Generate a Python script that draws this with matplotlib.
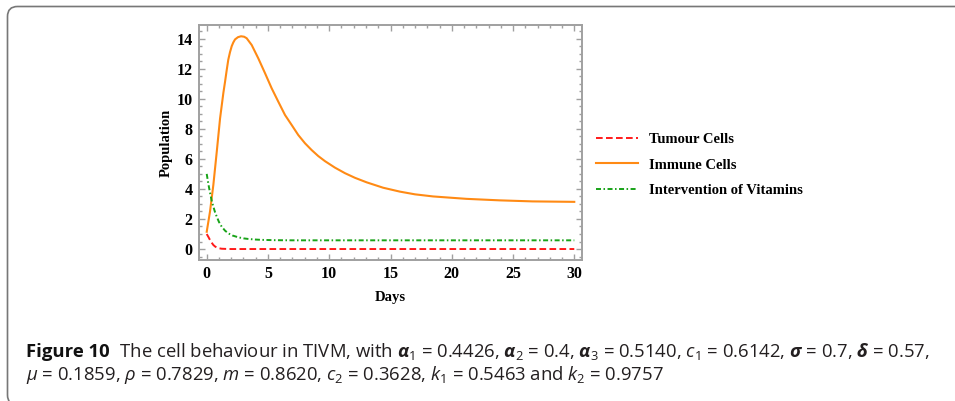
import matplotlib
matplotlib.use("Agg")
import matplotlib.pyplot as plt
from matplotlib.patches import FancyBboxPatch
from matplotlib.transforms import IdentityTransform
from matplotlib.ticker import MultipleLocator

# ---- data -------------------------------------------------------------
tumour_t = [0, 0.14, 0.27, 0.41, 0.54, 0.68, 0.82, 1.0, 1.22, 1.5, 2, 3, 5, 10, 15, 20, 25, 30]
tumour_y = [1.0, 0.8, 0.6, 0.42, 0.27, 0.17, 0.1, 0.05, 0.02, 0.01, 0.0, 0, 0, 0, 0, 0, 0, 0]

immune_t = [0, 0.27, 0.54, 0.82, 1.09, 1.36, 1.49, 1.63, 1.76, 1.9, 2.04, 2.17, 2.31, 2.55,
            2.8, 3.05, 3.26, 3.67, 4.21, 4.76, 5.3, 5.84, 6.39, 6.93, 7.47, 8.02, 8.56,
            9.1, 9.65, 10.46, 11.28, 12.1, 13.05, 14.4, 15.77, 17.0, 18.48, 20.0, 21.2,
            23.9, 26.6, 30]
immune_y = [1.15, 2.5, 4.26, 6.48, 8.7, 10.4, 11.1, 11.9, 12.6, 13.1, 13.5, 13.75, 13.95, 14.1,
            14.16, 14.13, 14.03, 13.58, 12.69, 11.7, 10.7, 9.81, 8.92, 8.26, 7.59, 7.04, 6.59,
            6.19, 5.85, 5.42, 5.05, 4.74, 4.44, 4.08, 3.82, 3.64, 3.5, 3.41, 3.34,
            3.24, 3.17, 3.14]

vitamin_t = [0, 0.14, 0.27, 0.41, 0.54, 0.68, 0.82, 1.0, 1.22, 1.5, 1.77, 2.1, 2.58, 3.0,
             3.4, 4.0, 4.48, 5.5, 7, 10, 15, 20, 25, 30]
vitamin_y = [5.0, 4.3, 3.75, 3.2, 2.82, 2.45, 2.15, 1.8, 1.49, 1.22, 1.04, 0.9, 0.78, 0.71,
             0.67, 0.63, 0.61, 0.59, 0.58, 0.58, 0.58, 0.58, 0.58, 0.58]

labels = ["Tumour Cells", "Immune Cells", "Intervention of Vitamins"]
x_label = "Days"
y_label = "Population"

caption_bold = "Figure 10"
caption_line1 = (r"  The cell behaviour in TIVM, with $\mathbfit{\alpha}_1$ = 0.4426, "
                 r"$\mathbfit{\alpha}_2$ = 0.4, $\mathbfit{\alpha}_3$ = 0.5140, "
                 r"$c_1$ = 0.6142, $\mathbfit{\sigma}$ = 0.7, $\mathbfit{\delta}$ = 0.57,")
caption_line2 = (r"$\mu$ = 0.1859, $\rho$ = 0.7829, $m$ = 0.8620, $c_2$ = 0.3628, "
                 r"$k_1$ = 0.5463 and $k_2$ = 0.9757")

# ---- style ------------------------------------------------------------
plt.rcParams["lines.scale_dashes"] = False
plt.rcParams["mathtext.fontset"] = "custom"
plt.rcParams["mathtext.rm"] = "Open Sans"
plt.rcParams["mathtext.it"] = "Open Sans:italic"
plt.rcParams["mathtext.bf"] = "Open Sans:bold"
plt.rcParams["mathtext.bfit"] = "Open Sans:bold:italic"

serif = "Liberation Serif"
frame_col = "#a0a0a0"

fig = plt.figure(figsize=(9.55, 4.01), dpi=100)
ax = fig.add_axes([199 / 955, 1 - 260 / 401, 383 / 955, 235 / 401])

ax.plot(tumour_t, tumour_y, color="#ff1a1a", lw=1.4, dashes=(4.8, 2.4), label=labels[0])
ax.plot(immune_t, immune_y, color="#ff8a14", lw=1.5, label=labels[1])
ax.plot(vitamin_t, vitamin_y, color="#18a318", lw=1.4, dashes=(3.6, 1.8, 1.1, 1.8),
        label=labels[2])

ax.set_xlim(-0.63, 30.63)
ax.set_ylim(-0.73, 14.91)
ax.xaxis.set_major_locator(MultipleLocator(5))
ax.xaxis.set_minor_locator(MultipleLocator(1))
ax.yaxis.set_major_locator(MultipleLocator(2))
ax.yaxis.set_minor_locator(MultipleLocator(0.5))

for s in ax.spines.values():
    s.set_color(frame_col)
    s.set_linewidth(1.4)

ax.tick_params(which="both", direction="in", top=True, right=True, color=frame_col,
               width=1.0)
ax.tick_params(which="major", length=4.5, pad=4.5)
ax.tick_params(which="minor", length=2.3)
for lab in ax.get_xticklabels() + ax.get_yticklabels():
    lab.set_fontfamily(serif)
    lab.set_fontweight("bold")
    lab.set_fontsize(11.5)

ax.set_xlabel(x_label, fontfamily=serif, fontweight="bold", fontsize=10.5, labelpad=6)
ax.set_ylabel(y_label, fontfamily=serif, fontweight="bold", fontsize=10.5, labelpad=3)

fig.legend(loc="center left", bbox_to_anchor=(596 / 955, 1 - 165 / 401),
           frameon=False, borderpad=0, borderaxespad=0, handlelength=2.9,
           handletextpad=0.7, labelspacing=0.86,
           prop={"family": serif, "weight": "bold", "size": 10.5})

# caption
cap_color = "#231f20"
cap_size = 13.3
t1 = fig.text(26 / 955, 1 - 357 / 401, caption_bold, fontfamily="Open Sans",
              fontweight="bold", fontsize=cap_size, color="#111111", va="baseline")
fig.canvas.draw()
bb = t1.get_window_extent()
fig.text(bb.x1 / 955, 1 - 357 / 401, caption_line1, fontfamily="Open Sans",
         fontsize=cap_size, color=cap_color, va="baseline")
fig.text(26 / 955, 1 - 380 / 401, caption_line2, fontfamily="Open Sans",
         fontsize=cap_size, color=cap_color, va="baseline")

# rounded outer frame
box = FancyBboxPatch((7.5, -4), 980, 398.5, boxstyle="round,pad=0,rounding_size=10",
                     transform=IdentityTransform(), fill=False, edgecolor="#777777",
                     linewidth=1.2)
fig.add_artist(box)

fig.savefig("out.png", dpi=100)
